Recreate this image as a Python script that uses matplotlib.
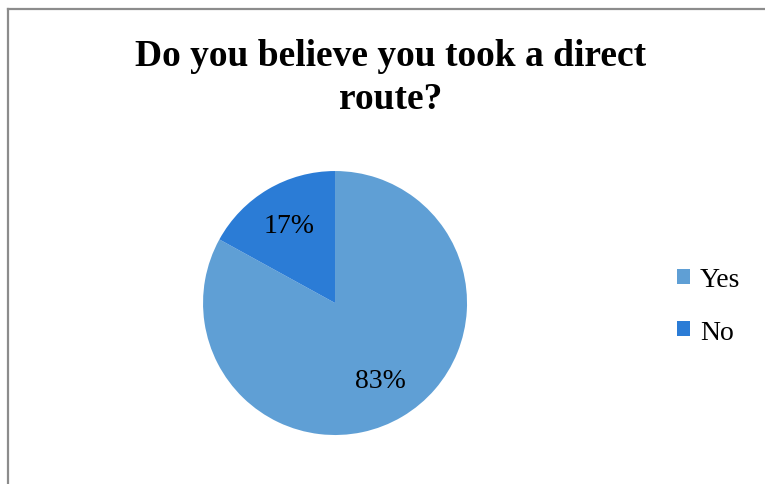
import matplotlib.pyplot as plt
from matplotlib.lines import Line2D

# survey answers
answers = ['Yes', 'No']
shares = [83, 17]
colors = ['#5f9fd5', '#2b7cd6']

plt.rcParams['font.family'] = ['Liberation Serif', 'DejaVu Serif']

fig = plt.figure(figsize=(7.65, 4.85), dpi=100)

# chart frame (left and top edges only)
fig.add_artist(Line2D([7.5 / 765, 7.5 / 765], [0, 1 - 10 / 485], color='#8c8c8c', lw=1.6))
fig.add_artist(Line2D([7.5 / 765, 1], [1 - 10 / 485, 1 - 10 / 485], color='#8c8c8c', lw=1.6))

fig.text(391 / 765, 1 - 78 / 485, 'Do you believe you took a direct\nroute?',
         ha='center', va='center', fontsize=27, fontweight='bold', linespacing=1.3)

ax = fig.add_axes([0.2654, 0.1010, 0.3451, 0.5443])
wedges, texts, autotexts = ax.pie(shares, colors=colors, startangle=90, counterclock=False,
                                  autopct='%d%%', pctdistance=0.68,
                                  textprops={'fontsize': 20, 'color': 'black'})
ax.set_xlim(-1, 1)
ax.set_ylim(-1, 1)
ax.set_aspect('equal')

fig.legend(wedges, answers, loc='center left', bbox_to_anchor=(652 / 765, 1 - 307 / 485),
           frameon=False, fontsize=20, handlelength=0.47, handleheight=0.47,
           handletextpad=0.36, labelspacing=0.98)

fig.savefig('out.png', dpi=100)
